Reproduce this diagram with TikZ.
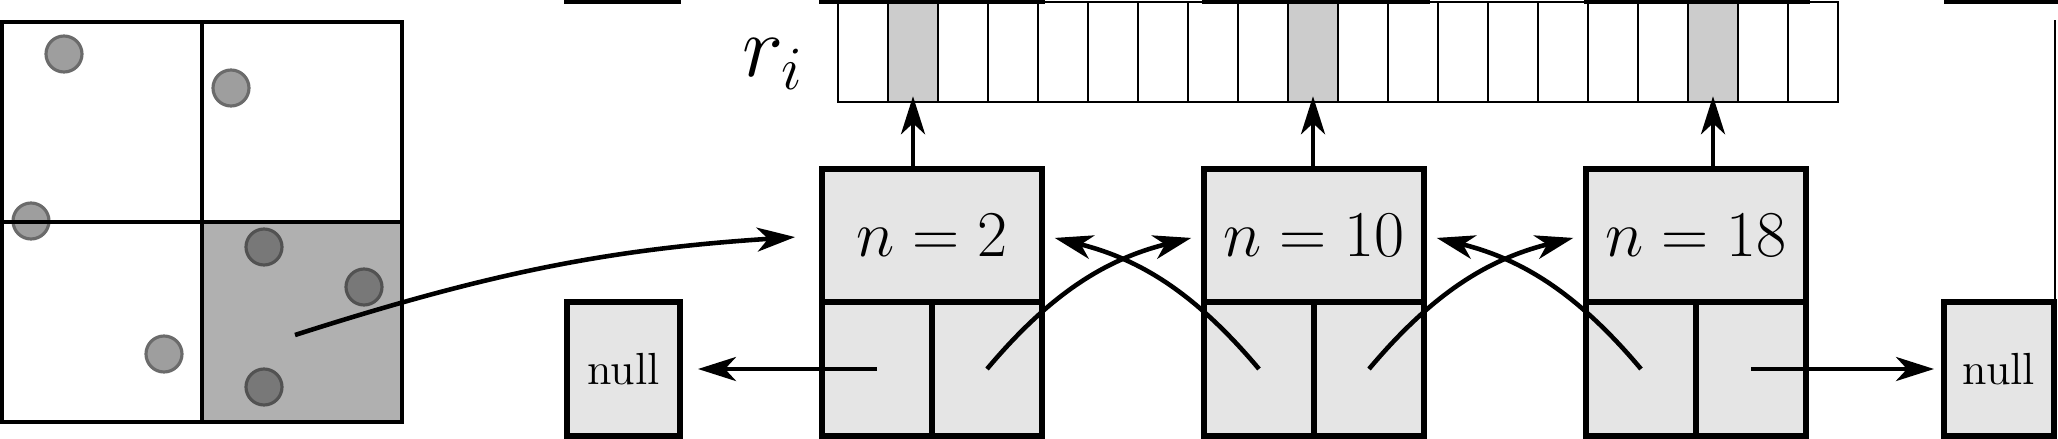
\RequirePackage{fix-cm}
\documentclass[tikz,border=0pt]{standalone}
\usepackage{amsmath}
\usepackage{xcolor}
\usepackage{tikz}
\usetikzlibrary{arrows.meta,calc}

\begin{document}
\begin{tikzpicture}[
    cellbox/.style={draw,line width=0.7pt,minimum width=0.5cm,minimum height=1cm,inner sep=0pt},
    topbox/.style={draw,fill=black!10,line width=1.7pt,minimum width=2.2cm,minimum height=1.33cm,inner sep=0pt,font=\fontsize{18.6}{22}\selectfont},
    halfbox/.style={draw,fill=black!10,line width=1.7pt,minimum width=1.1cm,minimum height=1.34cm,inner sep=0pt},
    nullbox/.style={halfbox,font=\fontsize{12.8}{15}\selectfont},
    ptr/.style={-{Stealth[length=3.8mm,width=2.4mm,inset=1.1mm]},line width=1.3pt},
    ball/.style={circle,minimum size=0.36cm,inner sep=0pt,line width=0.9pt}
    ]
\useasboundingbox (0,0) rectangle (20.58,4.38);
\clip (0,0) rectangle (20.58,4.38);

\fill[black!31] (2.02,0.16) rectangle (4.02,2.16);
\foreach \x/\y [count=\k] in {0.64/3.84,2.31/3.50,0.31/2.17,1.64/0.84}
    \node[ball,fill=black!38,draw=black!58] (p\k) at (\x,\y) {};
\foreach \x/\y [count=\k] in {2.64/1.91,3.64/1.51,2.64/0.51}
    \node[ball,fill=black!53,draw=black!68] (q\k) at (\x,\y) {};
\draw[line width=1pt] (0.02,0.16) rectangle (4.02,4.16) (2.02,0.16) -- (2.02,4.16) (0.02,2.16) -- (4.02,2.16);
\coordinate (pick) at (2.95,1.03);

\foreach \i in {1,...,20}
    \node[cellbox] (c\i) at (8.13+0.5*\i,3.86) {};
\node[font=\fontsize{25}{29}\selectfont] (ri) at (7.73,3.74) {$r_i$};

\foreach \n/\x [count=\k] in {2/9.32,10/13.14,18/16.96}{
    \node[cellbox,fill=black!20] at (c\n) {};
    \node[topbox] (t\k) at (\x,2.025) {$n=\n$};
    \node[halfbox] (l\k) at (\x-0.55,0.69) {};
    \node[halfbox] (r\k) at (\x+0.55,0.69) {};
    \draw[ptr,shorten >=-0.7mm] (t\k.north -| c\n.south) -- (c\n.south);
    }

\node[nullbox,minimum width=1.13cm] (nl) at (6.235,0.69) {null};
\node[nullbox] (nr) at (19.99,0.69) {null};

\draw[ptr,shorten >=2.4mm] (pick) to[bend left=7] (t1.west);
\draw[ptr,shorten >=1mm] (r1.center) to[bend left=18] (t2.west);
\draw[ptr,shorten >=1mm] (l2.center) to[bend right=18] (t1.east);
\draw[ptr,shorten >=1mm] (r2.center) to[bend left=18] (t3.west);
\draw[ptr,shorten >=1mm] (l3.center) to[bend right=18] (t2.east);
\draw[ptr,shorten >=1.5mm] (l1.center) -- (nl.east);
\draw[ptr,shorten >=0.7mm] (r3.center) -- (nr.west);

\foreach \a/\b in {5.64/6.81,8.19/10.45,12.02/14.30,15.84/18.10,19.44/20.58}
    \draw[line width=1.7pt] (\a,4.37) -- (\b,4.37);
\draw[line width=0.5pt] (20.55,4.18) -- (20.55,1.36);

\end{tikzpicture}
\end{document}
